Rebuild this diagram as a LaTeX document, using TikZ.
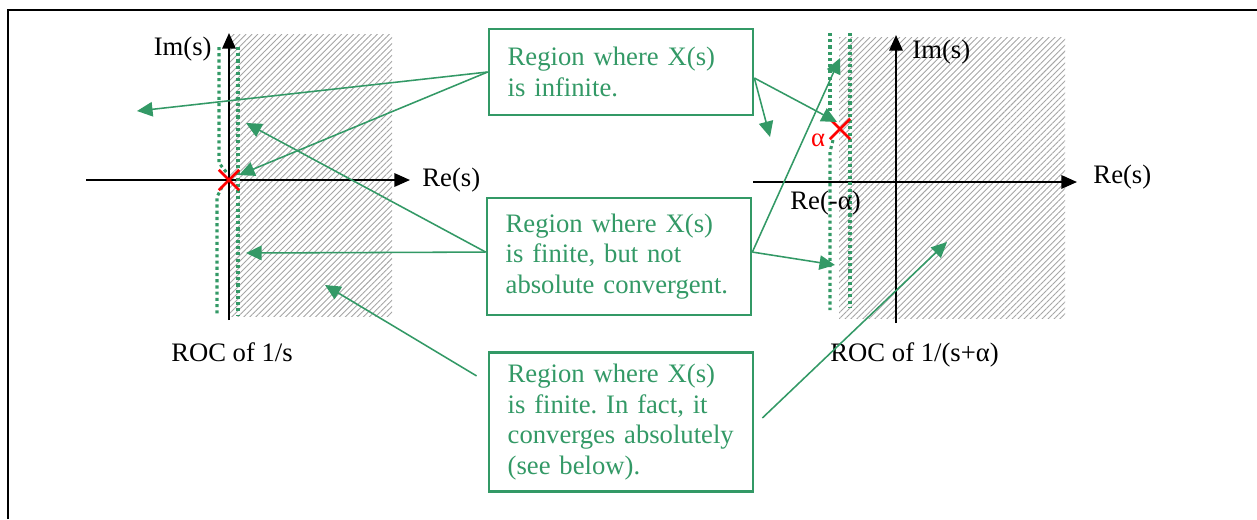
\documentclass[tikz,border=0pt]{standalone}
\usepackage{fontspec}
\setmainfont{Liberation Serif}
\usetikzlibrary{arrows.meta,positioning,patterns.meta,shapes.misc}
\definecolor{sea}{RGB}{51,153,102}
\definecolor{polered}{RGB}{255,0,0}
\definecolor{hatch}{RGB}{165,165,165}
\tikzset{
  note/.style={draw=sea,line width=1pt,text=sea,align=left,text width=102pt,
               inner xsep=8.5pt,inner ysep=0pt,font=\fontsize{12}{13.8}\selectfont},
  pointer/.style={-{Triangle[length=7pt,width=6.5pt]},draw=sea,line width=0.7pt},
  axis/.style={-{Triangle[length=7pt,width=6pt]},line width=0.9pt},
  roc/.style={pattern={Lines[angle=45,distance=1.9pt,line width=0.4pt]},pattern color=hatch},
  bound/.style={draw=sea,line width=1.4pt,dash pattern=on 1.4pt off 1.4pt},
  pole/.style={cross out,draw=polered,line width=1.2pt,minimum size=8pt,inner sep=0pt},
  lbl/.style={font=\fontsize{12}{13.8}\selectfont,inner sep=0pt}
}

\begin{document}
\frenchspacing
\begin{tikzpicture}[x=0.45pt,y=-0.45pt]
  \useasboundingbox (0,0) rectangle (1257,519);
  \draw[line width=1pt] (8,519) -- (8,10) -- (1257,10);

  % left s-plane
  \path[roc] (229,34) rectangle (392,316);
  \draw[axis] (86,180) -- (410,180);
  \draw[axis] (229,320) -- (229,33);
  \draw[bound] (219,47) -- (219,163) -- (227,173);
  \draw[bound] (222,187) -- (217,197) -- (217,316);
  \draw[bound] (238,47) -- (238,316);
  \node[pole] (p1) at (229,180) {};
  \node[lbl,anchor=east] (im1) at (212,49) {Im(s)};
  \node[lbl,anchor=west] (re1) at (422,180) {Re(s)};
  \node[lbl] (roc1) at (232,352) {ROC of 1/s};

  % right s-plane
  \path[roc] (839,37) rectangle (1065,318);
  \draw[axis] (753,182) -- (1077,182);
  \draw[axis] (896,323) -- (896,35);
  \draw[bound] (830,33) -- (830,112);
  \draw[bound] (833,140) -- (830,152) -- (830,310);
  \draw[bound] (850,33) -- (850,307);
  \node[pole] (p2) at (840,129) {};
  \node[lbl,text=polered] (alpha) at (818,140) {α};
  \node[lbl,anchor=west] (im2) at (912,52) {Im(s)};
  \node[lbl,anchor=west] (re2) at (1093,177) {Re(s)};
  \node[lbl,anchor=west] (re3) at (790,203) {Re(-α)};
  \node[lbl,anchor=west] (roc2) at (830,355) {ROC of 1/(s+α)};

  \node[note,minimum height=38.7pt] (inf) at (621,72) {Region where X(s)\\is infinite.};
  \node[note,minimum height=52.6pt] (fin) at (619,256.5)
    {Region where X(s)\\is finite, but not\\absolute convergent.};
  \node[note,minimum height=62.5pt] (abs) at (621,422)
    {Region where X(s)\\is finite. In fact, it\\converges absolutely\\(see below).};

  \coordinate (i1) at (137,111);
  \coordinate (i2) at (239,175);
  \coordinate (i3) at (770,137);
  \coordinate (i4) at (837,122);
  \coordinate (f1) at (246,123);
  \coordinate (f2) at (246,253);
  \coordinate (f3) at (840,58);
  \coordinate (f4) at (835,265);
  \coordinate (a1) at (325,285);
  \coordinate (a2) at (947,242);

  \draw[pointer] (inf.west) -- (i1);
  \draw[pointer] (inf.west) -- (i2);
  \draw[pointer] ([yshift=-2.7pt]inf.east) -- (i3);
  \draw[pointer] ([yshift=-2.7pt]inf.east) -- (i4);
  \draw[pointer] ([yshift=2pt]fin.west) -- (f1);
  \draw[pointer] ([yshift=2pt]fin.west) -- (f2);
  \draw[pointer] ([yshift=2pt]fin.east) -- (f3);
  \draw[pointer] ([yshift=2pt]fin.east) -- (f4);
  \draw[pointer] ([xshift=-5pt,yshift=-11pt]abs.north west) -- (a1);
  \draw[pointer] ([xshift=3.6pt,yshift=1.8pt]abs.east) -- (a2);
\end{tikzpicture}
\end{document}
